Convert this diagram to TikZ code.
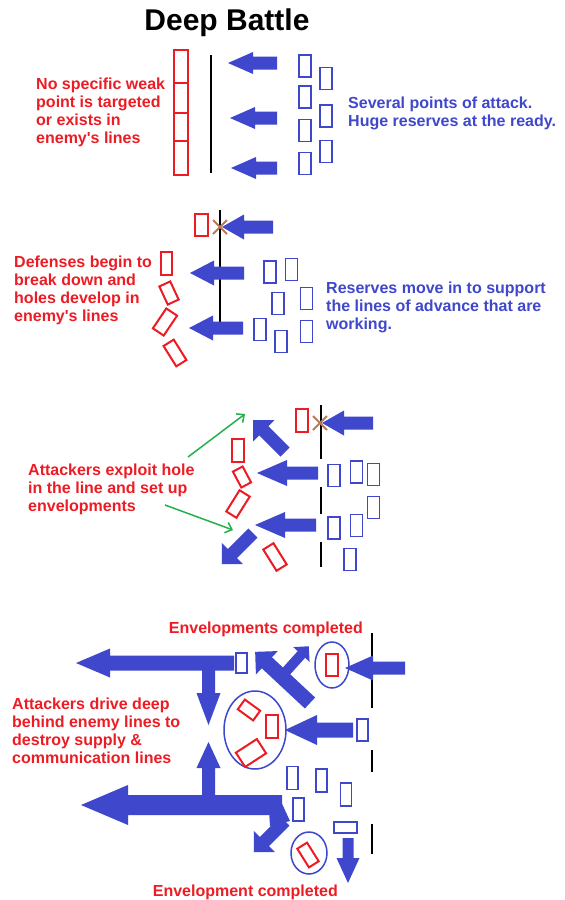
\documentclass[tikz,border=0pt]{standalone}
\usepackage{fontspec}
\setmainfont{Liberation Sans}
\usetikzlibrary{arrows.meta}

\definecolor{atkblue}{RGB}{63,72,204}
\definecolor{defred}{RGB}{237,28,36}
\definecolor{pgreen}{RGB}{34,177,76}
\definecolor{xbrown}{RGB}{185,122,87}

% block arrow: tail, angle, length, shaft half width, head half width, head length
\newcommand{\fatarrow}[6]{%
  \fill[atkblue, shift={(#1)}, rotate=#2] (0,-#4) -- ({#3-#6},-#4) -- ({#3-#6},-#5) -- (#3,0)
    -- ({#3-#6},#5) -- ({#3-#6},#4) -- (0,#4) -- cycle;}

\begin{document}
\begin{tikzpicture}[x=1pt, y=-1pt,
  rbox/.style={draw=defred, line width=2pt, minimum width=12pt, minimum height=23pt, inner sep=0pt},
  bbox/.style={draw=atkblue, line width=1.8pt, minimum width=12pt, minimum height=22pt, inner sep=0pt},
  redtxt/.style={text=defred, font=\fontsize{16}{18}\selectfont\bfseries, align=left, inner sep=0pt, anchor=west},
  bluetxt/.style={redtxt, text=atkblue},
  front/.style={line width=2pt},
  cross/.style={xbrown, line width=2pt},
  ring/.style={draw=atkblue, line width=1.5pt}]
\useasboundingbox (0,0) rectangle (565,900);
\fill[white] (0,0) rectangle (565,900);

\node (title) at (227,23) {\fontsize{30}{30}\selectfont\bfseries Deep Battle};

% --- stage 1
\foreach \ya/\yb in {50/83, 83/113, 113/141, 141/175}
  \draw[defred, line width=2pt] (174,\ya) rectangle (188,\yb);
\draw[front] (211,55) -- (211,173);
\foreach \y/\t in {63/228, 118/230, 168/231}
  \fatarrow{277,\y}{180}{277-\t}{6.5}{11}{25}
\foreach \y [count=\i] in {66, 97, 130.5, 163.5}
  \node[bbox] (sa\i) at (305,\y) {};
\foreach \y [count=\i] in {78.5, 116, 151.5}
  \node[bbox] (sb\i) at (326,\y) {};
\node[redtxt] (weak) at (36,112) {No specific weak\\point is targeted\\or exists in\\enemy\textquotesingle s lines};
\node[bluetxt] (several) at (348,113) {Several points of attack.\\Huge reserves at the ready.};

% --- stage 2
\draw[front] (220,210) -- (220,323);
\node[rbox, minimum width=13pt, minimum height=22pt] (hold2) at (201.5,225) {};
\draw[cross] (213,220) -- (227,234) (213,234) -- (227,220);
\fatarrow{273,227}{180}{51}{6.5}{12.5}{22}
\fatarrow{244,273}{180}{54}{6.5}{12.5}{24}
\fatarrow{243,328}{180}{54}{6.5}{12.5}{24}
\node[rbox, minimum width=11pt] (d1) at (166.5,263.5) {};
\node[rbox, minimum height=20pt, rotate=25] (d2) at (169,293) {};
\node[rbox, minimum width=13pt, minimum height=24pt, rotate=-34] (d3) at (165,322) {};
\node[rbox, minimum height=24pt, rotate=32] (d4) at (175,353) {};
\foreach \p [count=\i] in {(270,272), (291.5,269.5), (278,303.5), (306.5,298.5), (260,329.5), (281,341.5), (306.5,331.5)}
  \node[bbox] (r\i) at \p {};
\node[redtxt] (defenses) at (14,290) {Defenses begin to\\break down and\\holes develop in\\enemy\textquotesingle s lines};
\node[bluetxt] (reserves) at (326,307) {Reserves move in to support\\the lines of advance that are\\working.};

% --- stage 3
\draw[front] (321,405) -- (321,459) (321,487) -- (321,514) (321,542) -- (321,567);
\node[rbox] (hold3) at (302,420.5) {};
\draw[cross] (313,416) -- (327,430) (313,430) -- (327,416);
\fatarrow{373,423}{180}{51}{6.5}{12.5}{22}
\fatarrow{318,473}{180}{61}{6.5}{13}{30}
\fatarrow{316,525}{180}{61}{6.5}{13}{30}
\fatarrow{285,452}{135}{45}{6.5}{15}{15}
\fatarrow{253,533}{225}{44}{6.5}{15}{15}
\node[rbox] (e1) at (238,450.5) {};
\node[rbox, minimum width=11pt, minimum height=18pt, rotate=28] (e2) at (242,477) {};
\node[rbox, minimum height=25pt, rotate=-32] (e3) at (238,504) {};
\node[rbox, minimum height=25pt, rotate=32] (e4) at (275,557) {};
\foreach \p [count=\i] in {(334,475.5), (356.5,472), (373.5,474.5), (373.5,507.5), (334,528), (356.5,525.5), (350,559.5)}
  \node[bbox] (x\i) at \p {};
\node[redtxt] (exploit) at (28,489) {Attackers exploit hole\\in the line and set up\\envelopments};
\coordinate (gup) at (245,414);
\coordinate (gdown) at (233,530);
\draw[pgreen, line width=1.5pt, -{Straight Barb[length=6pt,width=11pt]}] (188,457) -- (gup);
\draw[pgreen, line width=1.5pt, -{Straight Barb[length=6pt,width=11pt]}] (165,505) -- (gdown);

% --- stage 4
\draw[front] (372,633) -- (372,708) (372,750) -- (372,772) (372,824) -- (372,854);
\node[redtxt, anchor=east] (envs) at (363,629) {Envelopments completed};
\node[redtxt, anchor=east] (env) at (338,892) {Envelopment completed};
% deep drive, upper
\fatarrow{234,663}{180}{158}{7.5}{14.5}{34}
\fatarrow{208.5,663}{270}{62}{6.5}{12}{32}
% deep drive, lower
\fatarrow{208.5,805}{90}{63}{6.5}{12}{26}
\fatarrow{282,805}{180}{201}{10}{20}{47}
\fill[atkblue] (268,795) -- (278,795) -- (290,821) -- (270,826) -- cycle;
\fatarrow{285,821}{225}{44}{6.5}{15}{15}
% pincers
\fatarrow{310,703}{137}{75}{7.5}{16}{16}
\fatarrow{282,676}{48}{40}{5}{11}{11}
\fatarrow{405,668}{180}{60}{6.5}{12.5}{28}
\fatarrow{353,730}{180}{68}{7.5}{15}{32}
\fatarrow{348,838}{270}{45}{5.5}{11.5}{25}
% pockets
\draw[ring] (332,665) ellipse [x radius=17, y radius=23];
\draw[ring] (255,730) ellipse [x radius=31, y radius=39];
\draw[ring] (309,853) ellipse [x radius=18, y radius=21];
\node[rbox, minimum height=22pt] (p1) at (332,665) {};
\node[rbox] (p2) at (272,726.5) {};
\node[rbox, minimum width=19pt, minimum height=12pt, rotate=-36] (p3) at (249,710) {};
\node[rbox, minimum width=25pt, minimum height=17pt, rotate=33] (p4) at (251,753) {};
\node[rbox, minimum width=11.5pt, minimum height=22pt, rotate=32] (p5) at (308,855) {};
\node[bbox, minimum width=11pt, minimum height=20pt] (t1) at (241.5,663) {};
\node[bbox, minimum width=11pt] (t2) at (362.5,730) {};
\foreach \p [count=\i] in {(292.5,778), (321.5,780.5), (346,794.5), (298.5,809.5)}
  \node[bbox, minimum width=11pt, minimum height=23pt] (u\i) at \p {};
\node[bbox, minimum width=23pt, minimum height=11pt] (u5) at (345.5,827.5) {};
\node[redtxt] (drive) at (12,731) {Attackers drive deep\\behind enemy lines to\\destroy supply \&\\communication lines};
\end{tikzpicture}
\end{document}
